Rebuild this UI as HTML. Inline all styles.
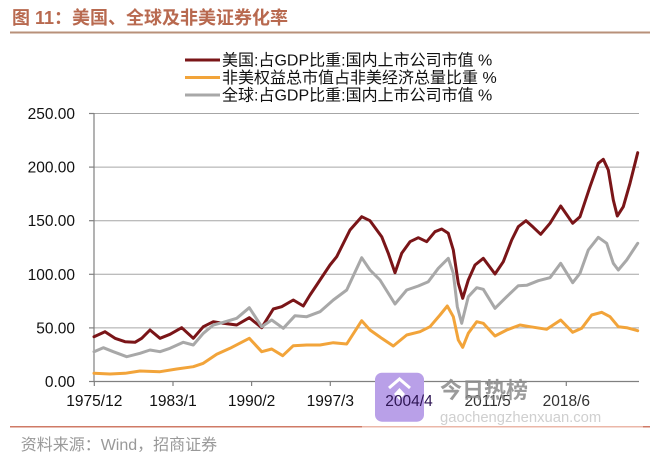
<!DOCTYPE html>
<html><head><meta charset="utf-8"><style>
html,body{margin:0;padding:0;background:#fff;}
svg{display:block;}
text{font-family:"Liberation Sans","Noto Sans CJK SC",sans-serif;}
</style></head><body>
<svg width="660" height="457" viewBox="0 0 660 457" xmlns="http://www.w3.org/2000/svg">
<rect width="660" height="457" fill="#fff"/>
<!-- title -->
<text x="12" y="24" font-size="18" font-weight="bold" fill="#b8694f">图 11：美国、全球及非美证券化率</text>
<rect x="10" y="31.5" width="640" height="2" fill="#b8917a"/>
<!-- legend -->
<g font-size="16" fill="#111">
<line x1="185" y1="60" x2="220" y2="60" stroke="#7a1518" stroke-width="3"/>
<text x="222" y="65.5">美国:占GDP比重:国内上市公司市值 %</text>
<line x1="185" y1="77.5" x2="220" y2="77.5" stroke="#f2a43a" stroke-width="3"/>
<text x="222" y="83">非美权益总市值占非美经济总量比重 %</text>
<line x1="185" y1="95" x2="220" y2="95" stroke="#a8a8a8" stroke-width="3"/>
<text x="222" y="100.5">全球:占GDP比重:国内上市公司市值 %</text>
</g>
<!-- grid -->
<g stroke="#a6a6a6" stroke-width="1">
<line x1="94" y1="113.5" x2="639" y2="113.5"/>
<line x1="94" y1="167.1" x2="639" y2="167.1"/>
<line x1="94" y1="220.7" x2="639" y2="220.7"/>
<line x1="94" y1="274.3" x2="639" y2="274.3"/>
<line x1="94" y1="327.9" x2="639" y2="327.9"/>
</g>
<!-- axes -->
<g stroke="#808080" stroke-width="1.2">
<line x1="94" y1="113" x2="94" y2="382"/>
<line x1="94" y1="381.5" x2="639" y2="381.5"/>
<line x1="89" y1="113.5" x2="94" y2="113.5"/>
<line x1="89" y1="167.1" x2="94" y2="167.1"/>
<line x1="89" y1="220.7" x2="94" y2="220.7"/>
<line x1="89" y1="274.3" x2="94" y2="274.3"/>
<line x1="89" y1="327.9" x2="94" y2="327.9"/>
<line x1="89" y1="381.5" x2="94" y2="381.5"/>
<line x1="94.3" y1="381.5" x2="94.3" y2="386"/>
<line x1="173" y1="381.5" x2="173" y2="386"/>
<line x1="251.6" y1="381.5" x2="251.6" y2="386"/>
<line x1="330.3" y1="381.5" x2="330.3" y2="386"/>
<line x1="409" y1="381.5" x2="409" y2="386"/>
<line x1="487.6" y1="381.5" x2="487.6" y2="386"/>
<line x1="566.3" y1="381.5" x2="566.3" y2="386"/>
</g>
<!-- y labels -->
<g font-size="15.5" fill="#111" text-anchor="end">
<text x="75" y="119">250.00</text>
<text x="75" y="172.6">200.00</text>
<text x="75" y="226.2">150.00</text>
<text x="75" y="279.8">100.00</text>
<text x="75" y="333.4">50.00</text>
<text x="75" y="387">0.00</text>
</g>
<!-- series -->
<g fill="none" stroke-width="3" stroke-linejoin="round" stroke-linecap="round">
<polyline stroke="#7a1518" points="94,336.7 105,331.7 115,338.3 125,341.7 135,342.3 141.7,338.3 150,330 160,338.3 170,334.3 181.7,327.7 193.3,338.3 203.3,326.7 213.3,321.7 223.3,323.3 236.7,325 249.3,317.7 261.7,327.7 273.3,309 281.7,306.7 293.3,300 303.3,306 310,295 316.7,285 320,280 330,265 336.7,256.7 350,230 361.7,216.7 370,220.7 381.7,236.7 388.3,253.3 395,272.7 401.7,253.3 410,241.7 418.3,237.7 426.7,241.7 435,231.7 441.7,229 448.3,233.3 453.3,250 458.3,283.3 462.7,298.3 468.3,280 475,265 483.3,258.3 488.3,265 495,274 503.3,261.7 511.7,240 518.3,226.7 526,220.7 533.3,227.3 540.7,234.3 550,223.3 560.7,206 572.7,223.3 580,216.7 590,186.7 598.3,163.3 603.3,159.3 608.3,170 613.3,200 617.3,216 623.3,206.7 630,183.3 637.7,152.7"/>
<polyline stroke="#f2a43a" points="94,373.3 110,374 125,373.3 140,371 160,371.7 176.7,369 193.3,366.7 203.3,363.3 216.7,354.3 230,348.3 249.3,338.3 261.7,351.7 271.7,349 282.7,355.7 293.3,345.7 306.7,345 320,345 333.3,342.7 346.7,344 361.7,320.7 370,330 381.7,338.3 393.3,346 406.7,335 420,331.7 430,326.7 440,315 447.3,306 453.3,316.7 458.3,340 462.7,347.3 468.3,333.3 476.7,321.7 483.3,323.3 495,336 506.7,330 520,325 530,326.7 546.7,329.3 560.7,320 572.7,332.3 581.7,328.3 591.7,315 601.7,312.3 610,316.7 618.3,326.7 626.7,327.7 637.7,330.7"/>
<polyline stroke="#a8a8a8" points="94,351.7 103.3,347.7 113.3,351.7 126.7,356.7 140,353.3 150,350 160,351.7 170,348.3 183.3,342.3 193.3,345 203.3,333.3 213.3,325 223.3,322.3 236.7,318.3 249.3,307.7 261.7,326.7 271.7,320 283.3,328.3 295,315.7 306.7,316.7 320,311.7 333.3,300 346.7,290 361.7,257.7 370,270 380,280 395,304 406.7,290 418.3,286 428.3,281.7 438.3,268.3 448.3,258.3 453.3,273.3 457.3,306.7 461.7,323.3 468.3,296.7 476.7,287.7 483.3,289.3 495,308.3 506.7,296.7 518.3,285.7 526.7,285.3 538.3,280.7 550,277.7 560.7,263.3 572.7,282.7 580,273.3 588.3,250 598.3,237.3 606.7,243.3 613.3,263.3 618.3,270 626.7,260 637.7,243.3"/>
</g>
<!-- watermark box -->
<rect x="375" y="372.7" width="49" height="49" rx="7" fill="#b9a0e8"/>
<path d="M389 388 L399.5 379 L410 388" fill="none" stroke="#fff" stroke-width="3"/>
<path d="M399.5 388 L405 394 L399.5 400 L394 394 Z" fill="#fff"/>
<!-- x labels -->
<g font-size="15.5" fill="#111" text-anchor="middle">
<text x="94.3" y="406">1975/12</text>
<text x="173" y="406">1983/1</text>
<text x="251.6" y="406">1990/2</text>
<text x="330.3" y="406">1997/3</text>
<text x="409" y="406" fill="#2e1654">2004/4</text>
<text x="487.6" y="406" fill="#333">2011/5</text>
<text x="566.3" y="406" fill="#333">2018/6</text>
</g>
<!-- watermark text -->
<text x="440" y="398" font-size="22" font-weight="bold" fill="#8a8a8a" fill-opacity="0.85">今日热榜</text>
<text x="440" y="422" font-size="14.8" fill="#cfcfcf">gaochengzhenxuan.com</text>
<!-- footer -->
<rect x="10" y="426" width="352" height="1.5" fill="#cf7a66"/>
<rect x="362" y="426" width="281" height="1.5" fill="#ebb7a8"/>
<rect x="643" y="426" width="7" height="1.5" fill="#cf7a66"/>
<text x="20.7" y="450" font-size="16" fill="#999">资料来源：Wind，招商证券</text>
</svg>
</body></html>
